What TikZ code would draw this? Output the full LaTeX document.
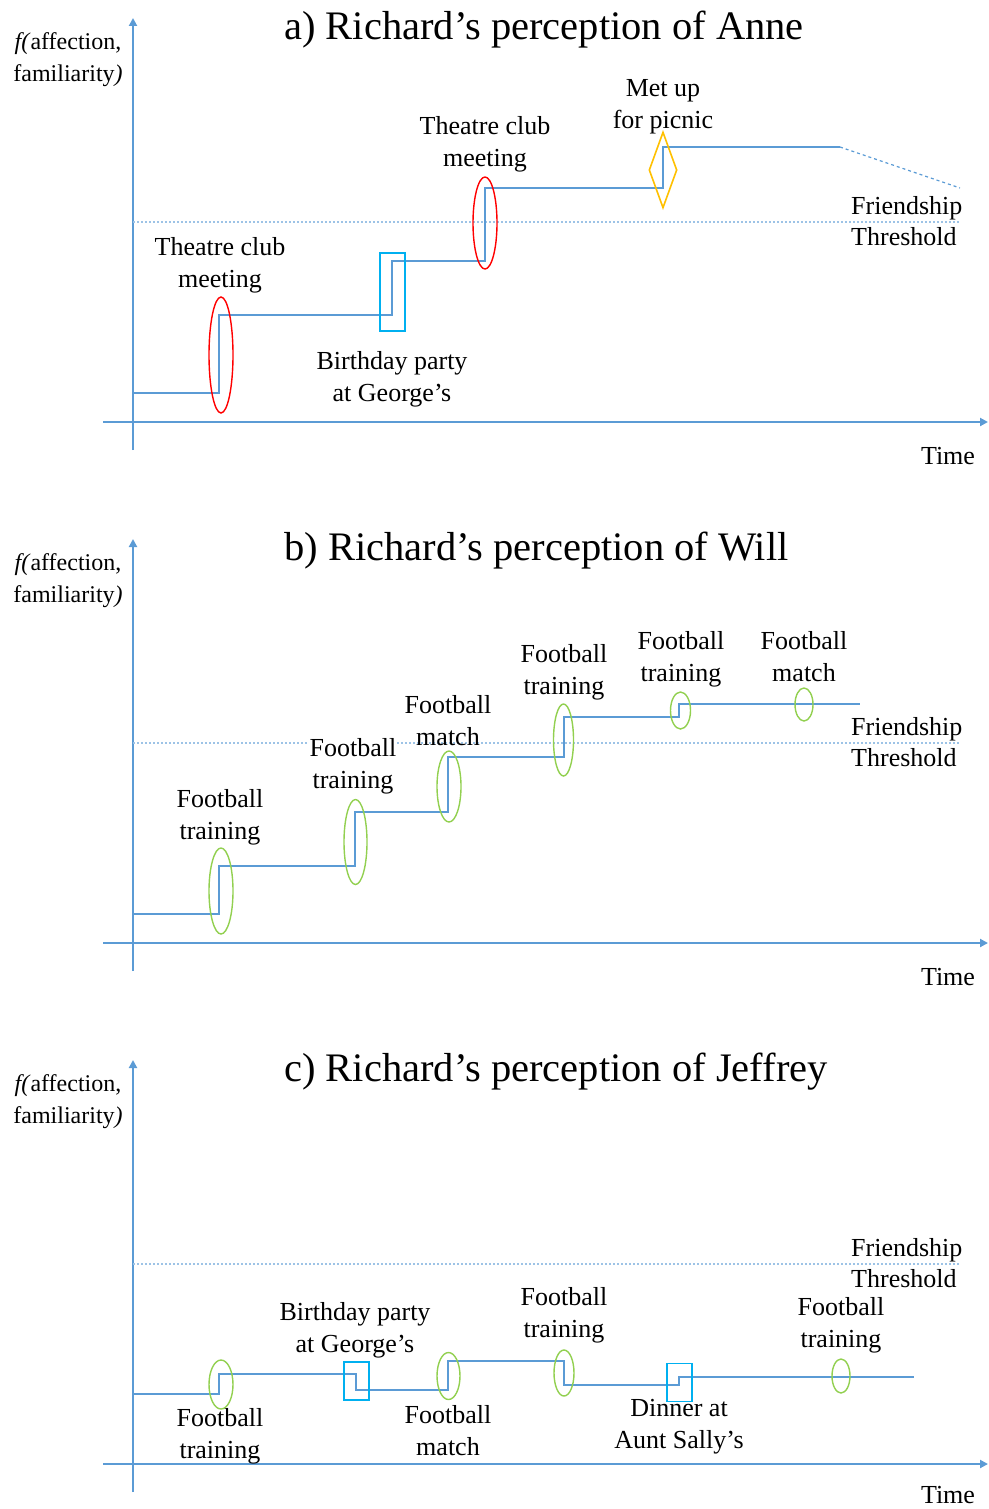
\documentclass[tikz,border=0pt]{standalone}
\usepackage{fontspec}
\setmainfont{Liberation Serif}
\usetikzlibrary{arrows.meta,shapes.geometric}
\definecolor{axisblue}{HTML}{5B9BD5}
\definecolor{thrblue}{HTML}{9DC3E6}
\definecolor{evred}{HTML}{FF0000}
\definecolor{evgreen}{HTML}{92D050}
\definecolor{evcyan}{HTML}{00B0F0}
\definecolor{evorange}{HTML}{FFC000}
\tikzset{
  axisline/.style={draw=axisblue, line width=2pt, -{Triangle[length=8pt,width=8pt]}},
  thrline/.style={draw=thrblue, line width=1.3pt, dash pattern=on 2pt off 2pt},
  stepline/.style={draw=axisblue, line width=1.4pt},
  fadeline/.style={draw=axisblue, line width=1.2pt, dash pattern=on 3pt off 3pt},
  lbltext/.style={font=\fontsize{26}{32}\selectfont, align=center, inner sep=1pt},
  lbl/.style={lbltext, fill=white},
  thrlbl/.style={font=\fontsize{26}{31}\selectfont, align=left, inner sep=0pt, anchor=west},
  ttl/.style={font=\fontsize{40.5}{48}\selectfont, inner sep=0pt, anchor=west},
  ylbl/.style={font=\fontsize{24}{32}\selectfont, align=center, inner sep=0pt},
  evell/.style={ellipse, draw, line width=1.4pt, inner sep=0pt},
  redev/.style={evell, draw=evred},
  greenev/.style={evell, draw=evgreen},
  cyanbox/.style={rectangle, draw=evcyan, line width=1.6pt, inner sep=0pt},
  orangedia/.style={diamond, draw=evorange, line width=1.6pt, inner sep=0pt},
}
\begin{document}
\begin{tikzpicture}[x=1pt, y=-1pt]
\useasboundingbox (0,0) rectangle (988,1509);

% ---------- axes, thresholds, titles ----------
\foreach \o/\t/\ty in {0/{a) Richard’s perception of Anne}/456, 521/{b) Richard’s perception of Will}/456, 1042/{c) Richard’s perception of Jeffrey}/453} {
  \coordinate (ybot\o) at (133,450+\o);
  \coordinate (ytop\o) at (133,18+\o);
  \coordinate (xl\o) at (103,422+\o);
  \coordinate (xr\o) at (988,422+\o);
  \coordinate (thl\o) at (133,222+\o);
  \coordinate (thr\o) at (960,222+\o);
  \draw[axisline] (ybot\o) -- (ytop\o);
  \draw[axisline] (xl\o) -- (xr\o);
  \draw[thrline] (thl\o) -- (thr\o);
  \node[ttl] (title\o) at (284,30+\o) {\t};
  \node[ylbl] (ylab\o) at (68,60+\o) {\textit{f(}affection,\\familiarity\textit{)}};
  \node[font=\fontsize{26}{31}\selectfont, inner sep=0pt] (time\o) at (948,\ty+\o) {Time};
  \node[thrlbl] (fth\o) at (851,221+\o) {Friendship\\Threshold};
}

% ---------- panel a ----------
\node[lbl] (la1) at (220,265) {Theatre club\\meeting};
\node[lbl] (la2) at (392,379) {Birthday party\\at George’s};
\node[lbl] (la3) at (485,144) {Theatre club\\meeting};
\node[lbl] (la4) at (663,107) {Met up\\for picnic};

\draw[stepline] (133,393) -- (219,393) -- (219,315) -- (392,315) -- (392,261)
  -- (485,261) -- (485,188) -- (663,188) -- (663,147) -- (840,147) coordinate (aend);
\coordinate (afade) at (960,188);
\draw[fadeline] (aend) -- (afade);

\node[redev, minimum width=24pt, minimum height=116pt] (ea1) at (221,355) {};
\node[cyanbox, minimum width=25pt, minimum height=78pt] (ea2) at (392.5,292) {};
\node[redev, minimum width=24pt, minimum height=92pt] (ea3) at (485,223) {};
\node[orangedia, minimum width=28pt, minimum height=76pt] (ea4) at (663,170) {};

% ---------- panel b ----------
\node[lbl] (lb1) at (220,817) {Football\\training};
\node[lbl] (lb2) at (353,766) {Football\\training};
\node[lbltext] (lb3) at (448,721) {Football\\match};
\node[lbl] (lb4) at (564,672) {Football\\training};
\node[lbl] (lb5) at (681,659) {Football\\training};
\node[lbl] (lb6) at (804,657) {Football\\match};

\draw[stepline] (133,914) -- (219,914) -- (219,866) -- (355,866) -- (355,812)
  -- (448,812) -- (448,757) -- (564,757) -- (564,717) -- (679,717) -- (679,704) -- (860,704);

\node[greenev, minimum width=24pt, minimum height=86pt] (eb1) at (221,891) {};
\node[greenev, minimum width=23pt, minimum height=85pt] (eb2) at (355.5,842) {};
\node[greenev, minimum width=24pt, minimum height=71pt] (eb3) at (449,786.5) {};
\node[greenev, minimum width=20pt, minimum height=72pt] (eb4) at (563.5,740) {};
\node[greenev, minimum width=20pt, minimum height=37pt] (eb5) at (680.5,710.5) {};
\node[greenev, minimum width=18pt, minimum height=33pt] (eb6) at (804,704.5) {};

% ---------- panel c ----------
\node[lbltext] (lc1) at (220,1436) {Football\\training};
\node[lbltext] (lc2) at (355,1330) {Birthday party\\at George’s};
\node[lbltext] (lc3) at (448,1431) {Football\\match};
\node[lbltext] (lc4) at (564,1315) {Football\\training};
\node[lbltext] (lc5) at (679,1427) {Dinner at\\Aunt Sally’s};
\node[lbltext] (lc6) at (841,1325) {Football\\training};

\draw[stepline] (133,1394) -- (219,1394) -- (219,1374) -- (356,1374) -- (356,1390)
  -- (448,1390) -- (448,1361) -- (564,1361) -- (564,1385) -- (679,1385) -- (679,1377) -- (914,1377);

\node[greenev, minimum width=24pt, minimum height=49pt] (ec1) at (221,1384.5) {};
\node[cyanbox, minimum width=25pt, minimum height=38pt] (ec2) at (356.5,1381) {};
\node[greenev, minimum width=23pt, minimum height=47pt] (ec3) at (448.5,1376) {};
\node[greenev, minimum width=20pt, minimum height=46pt] (ec4) at (564,1373) {};
\node[cyanbox, minimum width=25pt, minimum height=38pt] (ec5) at (679.5,1382.5) {};
\node[greenev, minimum width=18pt, minimum height=34pt] (ec6) at (841,1376) {};
\end{tikzpicture}
\end{document}
